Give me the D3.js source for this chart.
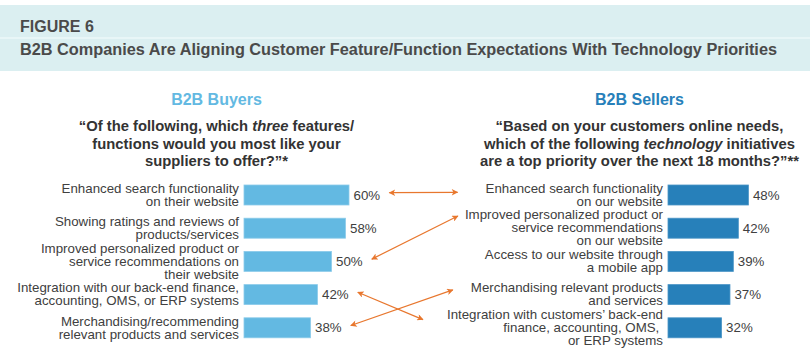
<!DOCTYPE html>
<html>
<head>
<meta charset="utf-8">
<script src="https://cdn.jsdelivr.net/npm/d3@7/dist/d3.min.js"></script>
<style>
  html, body { margin: 0; padding: 0; background: #ffffff; }
  svg { display: block; font-family: "Liberation Sans", Arial, Helvetica, sans-serif; }
</style>
</head>
<body>
<svg id="chart" width="810" height="359"></svg>
<script>
// ---- Data ----
const figureLabel = "FIGURE 6";
const figureTitle = "B2B Companies Are Aligning Customer Feature/Function Expectations With Technology Priorities";

const buyerHeading = "B2B Buyers";
const buyerQuestion = [
  [{t: "\u201COf the following, which "}, {t: "three", i: true}, {t: " features/"}],
  [{t: "functions would you most like your"}],
  [{t: "suppliers to offer?\u201D*"}]
];
const buyerCategories = [
  ["Enhanced search functionality", "on their website"],
  ["Showing ratings and reviews of", "products/services"],
  ["Improved personalized product or", "service recommendations on", "their website"],
  ["Integration with our back-end finance,", "accounting, OMS, or ERP systems"],
  ["Merchandising/recommending", "relevant products and services"]
];
const buyerValues = [60, 58, 50, 42, 38];

const sellerHeading = "B2B Sellers";
const sellerQuestion = [
  [{t: "\u201CBased on your customers online needs,"}],
  [{t: "which of the following "}, {t: "technology", i: true}, {t: " initiatives"}],
  [{t: "are a top priority over the next 18 months?\u201D**"}]
];
const sellerCategories = [
  ["Enhanced search functionality", "on our website"],
  ["Improved personalized product or", "service recommendations", "on our website"],
  ["Access to our website through", "a mobile app"],
  ["Merchandising relevant products", "and services"],
  ["Integration with customers\u2019 back-end", "finance, accounting, OMS, ", "or ERP systems"]
];
const sellerValues = [48, 42, 39, 37, 32];

// links between matching buyer / seller items (buyer index, seller index)
const links = [
  {b: 0, s: 0},
  {b: 2, s: 1},
  {b: 3, s: 4},
  {b: 4, s: 3}
];

// ---- Styles / layout ----
const colBuyer = "#63b9e2";
const colSeller = "#2780ba";
const colText = "#404040";
const colArrow = "#e8772e";

const svg = d3.select("#chart");

// header band
svg.append("rect").attr("x", 0).attr("y", 5).attr("width", 810).attr("height", 66).attr("fill", "#dbeff1");
svg.append("rect").attr("x", 0).attr("y", 37).attr("width", 810).attr("height", 2).attr("fill", "#e8f6f7");
svg.append("text").attr("x", 20).attr("y", 31.7)
  .attr("font-size", 16).attr("font-weight", "bold").attr("fill", "#4a4a4a").text(figureLabel);
svg.append("text").attr("x", 20).attr("y", 55)
  .attr("font-size", 16).attr("font-weight", "bold").attr("fill", "#4a4a4a")
  .attr("textLength", 757).attr("lengthAdjust", "spacingAndGlyphs")
  .text(figureTitle);

// scales
const y = d3.scaleBand().domain(d3.range(5)).range([185, 337.8]).paddingInner(0.3976).paddingOuter(0);
const xL = d3.scaleLinear().domain([0, 100]).range([244, 419]);
const xR = d3.scaleLinear().domain([0, 100]).range([668, 835.5]);

function panel(opts) {
  const g = svg.append("g");
  g.append("text").attr("x", opts.cx).attr("y", 105).attr("text-anchor", "middle")
    .attr("font-size", 16).attr("font-weight", "bold").attr("fill", opts.color).text(opts.heading);
  opts.question.forEach((line, i) => {
    const t = g.append("text").attr("x", opts.cx).attr("y", 130.7 + i * 17.8)
      .attr("text-anchor", "middle").attr("font-size", 14.8).attr("font-weight", "bold").attr("fill", "#333333");
    line.forEach(part => {
      t.append("tspan").attr("font-style", part.i ? "italic" : null).text(part.t);
    });
  });
  // bars
  g.selectAll("rect.bar").data(opts.values).join("rect").attr("class", "bar")
    .attr("x", opts.x(0)).attr("y", (d, i) => y(i))
    .attr("width", d => opts.x(d) - opts.x(0)).attr("height", y.bandwidth())
    .attr("fill", opts.color).attr("stroke", opts.stroke).attr("stroke-width", 0.8);
  // value labels
  const vl = g.selectAll("text.val").data(opts.values).join("text").attr("class", "val")
    .attr("x", d => opts.x(d) + 4.5).attr("y", (d, i) => y(i) + y.bandwidth() / 2 + 4.6)
    .attr("font-size", 13.3).attr("fill", colText).text(d => d + "%");
  // category labels
  const cl = g.selectAll("text.cat").data(opts.categories).join("text").attr("class", "cat")
    .attr("text-anchor", "end").attr("font-size", 13.3).attr("fill", colText)
    .attr("xml:space", "preserve").style("white-space", "pre");
  cl.each(function(lines, i) {
    const c = y(i) + y.bandwidth() / 2;
    const first = c - (lines.length - 1) * 6.5 + 4.3;
    d3.select(this).selectAll("tspan").data(lines).join("tspan")
      .attr("x", opts.x(0) - 5).attr("y", (d, k) => first + k * 13).text(d => d);
  });
  return {vl: vl.nodes(), cl: cl.nodes()};
}

const L = panel({cx: 216.5, heading: buyerHeading, question: buyerQuestion, categories: buyerCategories,
  values: buyerValues, x: xL, color: colBuyer, stroke: "#8ccbea"});
const R = panel({cx: 639.5, heading: sellerHeading, question: sellerQuestion, categories: sellerCategories,
  values: sellerValues, x: xR, color: colSeller, stroke: "#4b95c6"});

// arrows
const defs = svg.append("defs");
["s", "e"].forEach(k => {
  defs.append("marker").attr("id", "ah-" + k).attr("viewBox", "0 0 10 10")
    .attr("refX", 9).attr("refY", 5).attr("markerWidth", 8.5).attr("markerHeight", 6.5)
    .attr("markerUnits", "userSpaceOnUse").attr("orient", k === "e" ? "auto" : "auto-start-reverse")
    .append("path").attr("d", "M0,0 L10,5 L0,10 L2.5,5 Z").attr("fill", colArrow);
});

// right end positions relative to the seller label (gap to first line left edge, vertical offset)
const rightEnds = [{gap: 28, dy: 4}, {gap: 7, dy: 1}, {gap: 24, dy: 5}, {gap: 18, dy: 2}];

links.forEach((lk, j) => {
  const vb = L.vl[lk.b].getBBox();
  const x1 = vb.x + vb.width + 9;
  const y1 = y(lk.b) + y.bandwidth() / 2 - 2.3;
  const firstLine = d3.select(R.cl[lk.s]).select("tspan").node().getBBox();
  const x2 = firstLine.x - rightEnds[j].gap;
  const y2 = firstLine.y + firstLine.height / 2 + rightEnds[j].dy;
  svg.append("line").attr("x1", x1).attr("y1", y1).attr("x2", x2).attr("y2", y2)
    .attr("stroke", colArrow).attr("stroke-width", 1.2)
    .attr("marker-start", "url(#ah-s)").attr("marker-end", "url(#ah-e)");
});
</script>
</body>
</html>
